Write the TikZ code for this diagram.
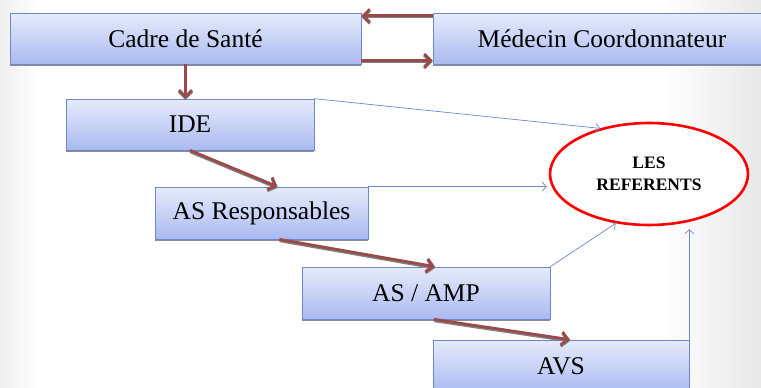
\documentclass[tikz,border=0pt]{standalone}
\usepackage{fontspec}
\setmainfont{Liberation Serif}
\usetikzlibrary{arrows.meta,shapes.geometric,shadows}
\definecolor{boxtop}{HTML}{E6EBFB}
\definecolor{boxbot}{HTML}{AABAF0}
\definecolor{boxline}{HTML}{6F87C9}
\definecolor{redarrow}{HTML}{9B4A4C}
\definecolor{blueline}{HTML}{6F87C9}
\tikzset{
  box/.style={rectangle, draw=boxline, line width=0.7pt, top color=boxtop, bottom color=boxbot,
    drop shadow={shadow xshift=0pt, shadow yshift=-1.6pt, fill=black!55, opacity=0.8},
    font=\rmfamily\fontsize{25.5}{28}\selectfont, inner sep=0pt},
  flow/.style={draw=redarrow, line width=2.8pt, -{Straight Barb[length=6.5pt,width=13pt,line width=2.8pt]},
    preaction={draw=black!50, line width=2.8pt, transform canvas={yshift=-1.4pt}}},
  link/.style={draw=blueline, line width=0.7pt, -{Straight Barb[length=4pt,width=9pt,line width=0.7pt]}},
  refnode/.style={ellipse, draw=red, line width=2.6pt, fill=white, inner sep=0pt,
    minimum width=198pt, minimum height=102pt, align=center,
    font=\rmfamily\bfseries\fontsize{17.5}{22}\selectfont}
}
\begin{document}
\begin{tikzpicture}[x=1pt,y=-1pt]
\useasboundingbox (0,0) rectangle (761,388);
\clip (0,0) rectangle (761,388);
\fill[white] (0,0) rectangle (761,388);
\fill[left color=black!6, right color=white] (0,0) rectangle (40,388);
\fill[left color=white, right color=black!9] (660,0) rectangle (761,388);

\node[box, minimum width=351pt, minimum height=51pt] (cadre) at (185.5,38.5) {Cadre de Santé};
\node[box, minimum width=338pt, minimum height=51pt] (med) at (602,38.5) {Médecin Coordonnateur};
\node[box, minimum width=248pt, minimum height=51pt] (ide) at (190,124.5) {IDE};
\node[box, minimum width=213pt, minimum height=52pt] (asr) at (261.5,213) {AS Responsables};
\node[box, minimum width=248pt, minimum height=52pt] (amp) at (426,293) {AS / AMP};
\node[box, minimum width=256pt, minimum height=52pt] (avs) at (561,366) {AVS};

\node[refnode] (ref) at (649,174) {LES\\REFERENTS};

\draw[flow] ([yshift=-3pt]med.north west) -- ([yshift=-3pt]cadre.north east);
\draw[flow] ([yshift=4pt]cadre.south east) -- ([yshift=4pt]med.south west);
\draw[flow] (cadre.south) -- (cadre.south |- ide.north);
\draw[flow] (ide.south) -- ([xshift=16pt]asr.north);
\draw[flow] ([xshift=18pt]asr.south) -- ([xshift=9pt]amp.north);
\draw[flow] ([xshift=8pt]amp.south) -- ([xshift=9pt]avs.north);

\draw[link] (ide.north east) -- (ref.137);
\draw[link] (asr.north east) -- ([xshift=-2pt]asr.north east -| ref.west);
\draw[link] (amp.north east) -- (ref.236);
\draw[link] (avs.north east) -- ([yshift=-3pt]avs.north east |- ref.south);
\end{tikzpicture}
\end{document}
